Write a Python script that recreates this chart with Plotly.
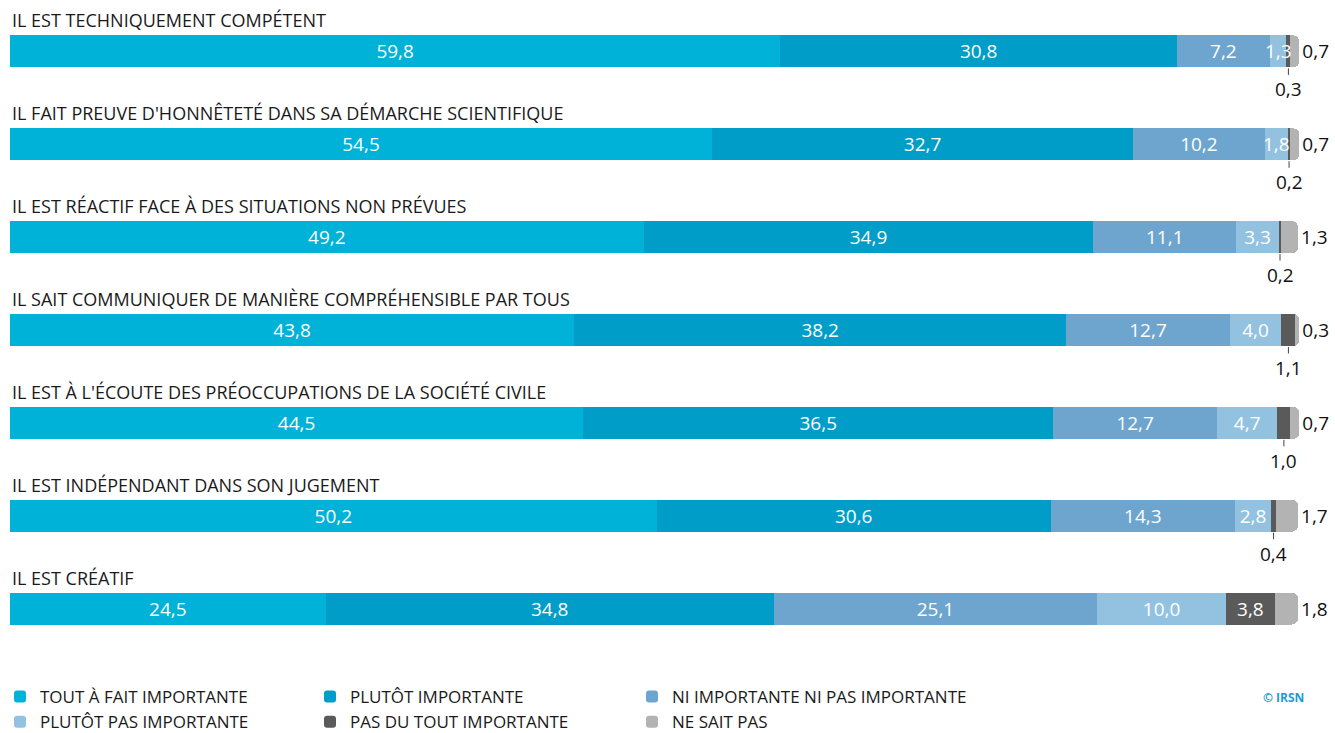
import plotly.graph_objects as go

categories = [
    "IL EST TECHNIQUEMENT COMPÉTENT",
    "IL FAIT PREUVE D'HONNÊTETÉ DANS SA DÉMARCHE SCIENTIFIQUE",
    "IL EST RÉACTIF FACE À DES SITUATIONS NON PRÉVUES",
    "IL SAIT COMMUNIQUER DE MANIÈRE COMPRÉHENSIBLE PAR TOUS",
    "IL EST À L'ÉCOUTE DES PRÉOCCUPATIONS DE LA SOCIÉTÉ CIVILE",
    "IL EST INDÉPENDANT DANS SON JUGEMENT",
    "IL EST CRÉATIF",
]
series_names = [
    "TOUT À FAIT IMPORTANTE",
    "PLUTÔT IMPORTANTE",
    "NI IMPORTANTE NI PAS IMPORTANTE",
    "PLUTÔT PAS IMPORTANTE",
    "PAS DU TOUT IMPORTANTE",
    "NE SAIT PAS",
]
tout_a_fait = [59.8, 54.5, 49.2, 43.8, 44.5, 50.2, 24.5]
plutot = [30.8, 32.7, 34.9, 38.2, 36.5, 30.6, 34.8]
ni_ni = [7.2, 10.2, 11.1, 12.7, 12.7, 14.3, 25.1]
plutot_pas = [1.3, 1.8, 3.3, 4.0, 4.7, 2.8, 10.0]
pas_du_tout = [0.3, 0.2, 0.2, 1.1, 1.0, 0.4, 3.8]
ne_sait_pas = [0.7, 0.7, 1.3, 0.3, 0.7, 1.7, 1.8]
colors = ["#00B2D7", "#009DC8", "#6DA5CE", "#93C2E1", "#5A5A5A", "#B3B3B3"]

series = [tout_a_fait, plutot, ni_ni, plutot_pas, pas_du_tout, ne_sait_pas]
rows = list(range(len(categories)))
BARW = 0.344
FONT = "Open Sans"
VAL_SIZE = 19
W, H = 1335, 733
ML, MR, MT, MB = 10, 35, 4.5, 77.5

def fmt(v):
    return f"{v:.1f}".replace(".", ",")

legend_of = ["legend", "legend2", "legend3", "legend", "legend2", "legend3"]

fig = go.Figure()
for i, (name, vals, col) in enumerate(zip(series_names, series, colors)):
    if i == 5:
        texts = [fmt(v) for v in vals]
        tpos = "outside"
    elif i in (3, 4):
        texts = [fmt(v) if v >= 2 else "" for v in vals]
        tpos = "inside"
    else:
        texts = [fmt(v) for v in vals]
        tpos = "inside"
    fig.add_trace(go.Bar(
        x=vals, y=rows, orientation="h", name=name,
        marker=dict(color=col, line=dict(width=0)),
        width=BARW, text=texts, textposition=tpos, textangle=0,
        insidetextanchor="middle", constraintext="none",
        insidetextfont=dict(color="white", size=VAL_SIZE, family=FONT),
        outsidetextfont=dict(color="#111111", size=VAL_SIZE, family=FONT),
        cliponaxis=False, hoverinfo="skip", legend=legend_of[i],
    ))

annotations = []
for r, cat in enumerate(categories):
    annotations.append(dict(
        x=0, xref="paper", y=r, yref="y", yshift=31, text=cat,
        showarrow=False, xanchor="left", yanchor="middle",
        font=dict(size=18, color="#1a1a1a", family=FONT),
    ))
    start3 = tout_a_fait[r] + plutot[r] + ni_ni[r]
    v3 = plutot_pas[r]
    if v3 < 2:
        annotations.append(dict(
            x=start3 + v3 / 2, xref="x", y=r, yref="y", text=fmt(v3),
            showarrow=False, xanchor="center", yanchor="middle",
            font=dict(size=VAL_SIZE, color="white", family=FONT),
        ))
    v = pas_du_tout[r]
    if v < 2:
        start = start3 + v3
        annotations.append(dict(
            x=start + v / 2, xref="x", y=r + BARW / 2, yref="y",
            text=fmt(v), showarrow=True, arrowhead=0, arrowwidth=1,
            arrowcolor="#444444", ax=0, ay=22, standoff=1,
            font=dict(size=VAL_SIZE, color="#111111", family=FONT),
            yanchor="middle",
        ))

annotations.append(dict(
    xref="paper", x=(1283 - ML) / (W - ML - MR),
    yref="paper", y=-(698 - (H - MB)) / (H - MT - MB),
    text="<b>© IRSN</b>", showarrow=False,
    xanchor="center", yanchor="middle",
    font=dict(size=12, color="#1E9BD7", family=FONT),
))

leg_common = dict(orientation="v", yanchor="top", xanchor="left",
                  xref="container", yref="container",
                  font=dict(size=17, color="#1a1a1a", family=FONT),
                  bgcolor="rgba(0,0,0,0)", traceorder="normal",
                  itemclick=False, itemdoubleclick=False)
ly = 1 - 679 / H
fig.update_layout(
    width=W, height=H,
    margin=dict(l=ML, r=MR, t=MT, b=MB, autoexpand=False),
    barmode="stack",
    barcornerradius=6,
    separators=", ",
    paper_bgcolor="white", plot_bgcolor="white",
    showlegend=True,
    uniformtext=dict(minsize=VAL_SIZE, mode="show"),
    xaxis=dict(range=[0, 100.15], visible=False, fixedrange=True),
    yaxis=dict(range=[6.5, -0.5], visible=False, fixedrange=True),
    legend=dict(x=0, y=ly, **leg_common),
    legend2=dict(x=310 / W, y=ly, **leg_common),
    legend3=dict(x=632 / W, y=ly, **leg_common),
    annotations=annotations,
    font=dict(family=FONT),
)

fig.write_html("out.html", config={"displayModeBar": False},
               post_script="document.body.style.margin='0';")
